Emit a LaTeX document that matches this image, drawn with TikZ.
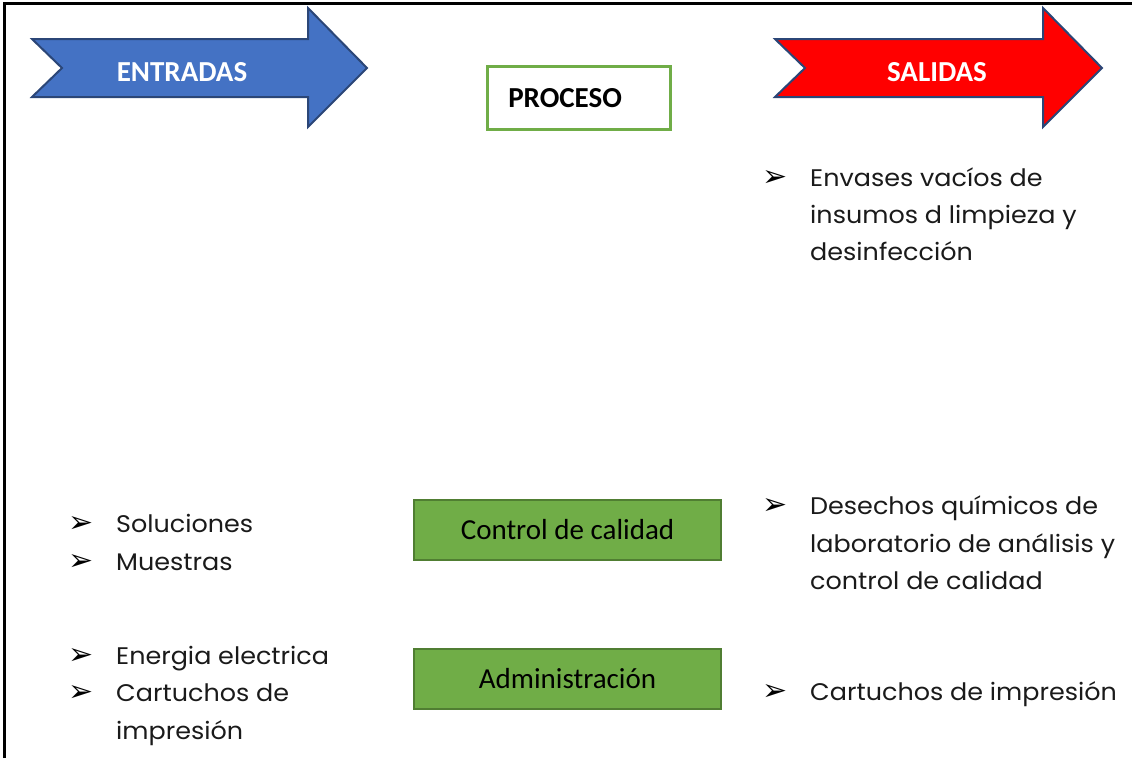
\documentclass[tikz,border=0pt]{standalone}
\usepackage{fontspec}
\setmainfont{Poppins}[FakeStretch=1.06]
\newfontfamily\calfont{Carlito}
\newfontfamily\symfont{DejaVu Sans}
\definecolor{entblue}{HTML}{4472C4}
\definecolor{salred}{HTML}{FF0000}
\definecolor{arrline}{HTML}{2B4677}
\definecolor{grfill}{HTML}{70AD47}
\definecolor{grline}{HTML}{507E32}
\definecolor{txtgray}{HTML}{1A1A1A}
\tikzset{
  bigarrow/.style={draw=arrline, line width=2pt, line join=miter},
  hdrtext/.style={inner sep=0, font=\calfont\bfseries\fontsize{29}{29}\selectfont, text=white},
  procbox/.style={draw=grfill, line width=2.5pt, fill=white, inner xsep=21pt, inner ysep=0pt,
    text width=141pt, minimum height=63pt, align=left, anchor=north west,
    font=\calfont\bfseries\fontsize{29}{29}\selectfont},
  actbox/.style={draw=grline, line width=2pt, fill=grfill, minimum width=307pt, minimum height=60pt,
    inner sep=0, anchor=north west, font=\calfont\fontsize{29}{29}\selectfont},
  itemline/.style={anchor=base west, inner sep=0, font=\fontsize{24}{37.5}\selectfont, text=txtgray},
  bul/.style={anchor=base west, inner sep=0, font=\symfont\fontsize{30}{30}\selectfont},
  frameline/.style={line width=3pt, black}
}
\begin{document}
\begin{tikzpicture}[x=1pt,y=-1pt]
\useasboundingbox (0,0) rectangle (1132,758);
% frame
\coordinate (fTL) at (4.5,3);
\coordinate (fTR) at (1132,3);
\coordinate (fBL) at (4.5,758);
\draw[frameline] (fBL) -- (fTL) -- (fTR);
% ENTRADAS arrow
\filldraw[bigarrow, fill=entblue] (32,39) -- (308,39) -- (308,8) -- (367,68) -- (308,127) -- (308,97) -- (32,97) -- (62,68) -- cycle;
\node[hdrtext] (entradas) at (182,72) {ENTRADAS};
% SALIDAS arrow
\filldraw[bigarrow, fill=salred] (775,39) -- (1043,39) -- (1043,8) -- (1102,68) -- (1043,127) -- (1043,97) -- (775,97) -- (805,68) -- cycle;
\node[hdrtext] (salidas) at (937,72) {SALIDAS};
% PROCESO
\node[procbox] (proceso) at (486,65) {PROCESO};
% process boxes
\node[actbox] (control) at (413,499) {Control de calidad};
\node[actbox] (admin) at (413,648) {Administración};
% left items
\node[bul] (bl1) at (68,532) {➢};
\node[itemline] (l1) at (116,532) {Soluciones};
\node[bul] (bl2) at (68,570) {➢};
\node[itemline] (l2) at (116,570) {Muestras};
\node[bul] (bl3) at (68,664) {➢};
\node[itemline] (l3) at (116,664) {Energia electrica};
\node[bul] (bl4) at (68,701) {➢};
\node[itemline] (l4a) at (116,701) {Cartuchos de};
\node[itemline] (l4b) at (116,739) {impresión};
% right items
\node[bul] (br1) at (762,186) {➢};
\node[itemline] (r1a) at (810,186) {Envases vacíos de};
\node[itemline] (r1b) at (810,223) {insumos d limpieza y};
\node[itemline] (r1c) at (810,260) {desinfección};
\node[bul] (br2) at (762,514) {➢};
\node[itemline] (r2a) at (810,514) {Desechos químicos de};
\node[itemline] (r2b) at (810,552) {laboratorio de análisis y};
\node[itemline] (r2c) at (810,589) {control de calidad};
\node[bul] (br3) at (762,700) {➢};
\node[itemline] (r3) at (810,700) {Cartuchos de impresión};
\end{tikzpicture}
\end{document}
